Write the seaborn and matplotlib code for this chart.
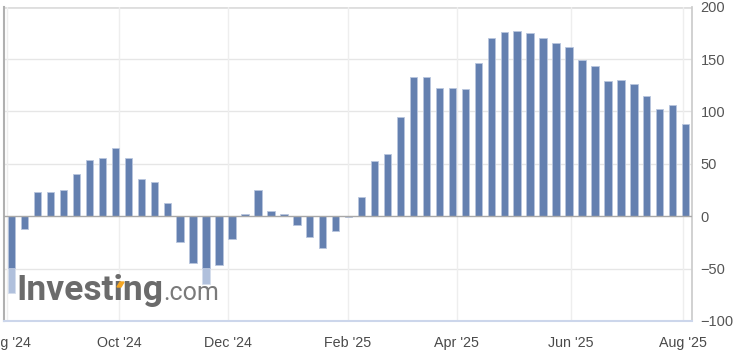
import pandas as pd
import seaborn as sns
import matplotlib.pyplot as plt
from matplotlib.patches import Polygon

sns.set_theme(style="white")
plt.rcParams["font.family"] = ["Liberation Sans", "DejaVu Sans"]

# weekly readings, oldest first
weeks = [d.strftime("%Y-%m-%d") for d in pd.date_range("2024-08-02", periods=53, freq="7D")]
values = [-49, -12, 23, 23, 25, 40, 54, 56, 65, 56, 36, 33, 13, -25, -45, -49,
          -47, -22, 2, 25, 5, 2, -8, -20, -30, -14, -1, 18, 53, 59, 95, 133,
          133, 122, 122, 121, 146, 170, 176, 177, 175, 170, 165, 162, 149, 143,
          129, 130, 126, 115, 102, 106, 88]
# lighter part drawn behind (previous value), only where it differs
previous = [None] * 53
previous[0] = -73
previous[15] = -65

month_labels = ["Aug '24", "Oct '24", "Dec '24", "Feb '25", "Apr '25", "Jun '25", "Aug '25"]
month_pos = [-0.39, 8.30, 16.67, 25.91, 34.34, 43.13, 51.82]
y_ticks = [-100, -50, 0, 50, 100, 150, 200]

df = pd.DataFrame({"week": weeks, "value": values, "previous": previous})
df["previous"] = df["previous"].astype(float)

fig = plt.figure(figsize=(7.43, 3.55), dpi=100)
ax = fig.add_axes([3.5 / 743, 34 / 355, 688.8 / 743, 314.3 / 355])

for y in y_ticks:
    if y == 0:
        continue
    ax.axhline(y, color="#e6e6e6" if y != 200 else "#dedede",
               lw=1.0 if y != 200 else 2.0, zorder=0)
for x in month_pos:
    ax.axvline(x, color="#eeeeee", lw=1.0, zorder=0)

sns.barplot(data=df.dropna(subset=["previous"]), x="week", y="previous", order=weeks,
            color="#b0c0dc", saturation=1, width=0.57, edgecolor="#d4ddec",
            linewidth=0.6, ax=ax, zorder=2)
sns.barplot(data=df, x="week", y="value", order=weeks,
            color="#6480b0", saturation=1, width=0.57, edgecolor="#b9c6de",
            linewidth=0.6, ax=ax, zorder=3)

ax.axhline(0, color="#a8a8a8", lw=1.0, zorder=4)

ax.set_xlim(-0.63, 52.51)
ax.set_ylim(-100, 200)
ax.set_xticks(month_pos)
ax.set_xticklabels(month_labels)
ax.set_yticks(y_ticks)
ax.yaxis.tick_right()
ax.tick_params(axis="x", length=0, pad=11, labelsize=10.3, labelcolor="#4a4a4a")
ax.tick_params(axis="y", length=0, pad=6, labelsize=10.5, labelcolor="#555555")
for lab in ax.get_yticklabels():
    lab.set_horizontalalignment("left")
ax.set_xlabel("")
ax.set_ylabel("")

ax.spines["top"].set_visible(False)
ax.spines["bottom"].set_color("#ccd6eb")
ax.spines["bottom"].set_linewidth(1.5)
ax.spines["right"].set_color("#cccccc")
ax.spines["left"].set_color("#b0b0b0")
ax.spines["left"].set_linewidth(1.5)

# watermark
t1 = fig.text(16 / 743, 55 / 355, "Investing", family=["Roboto", "DejaVu Sans"],
              fontweight="bold", fontsize=25.5, color="#6b6b6b", va="baseline", zorder=5)
fig.canvas.draw()
bb = t1.get_window_extent()
fig.text(bb.x1 / 743 + 0.001, 55 / 355, ".com", family=["Roboto", "DejaVu Sans"],
         fontsize=18, color="#7a7a7a", va="baseline", zorder=5)
fig.patches.append(Polygon([[117 / 743, 1 - 287 / 355], [121 / 743, 1 - 287 / 355],
                            [124 / 743, 1 - 282 / 355], [120 / 743, 1 - 282 / 355]],
                           closed=True, transform=fig.transFigure, color="#f5a623",
                           zorder=6))

fig.savefig("out.png", dpi=100)
